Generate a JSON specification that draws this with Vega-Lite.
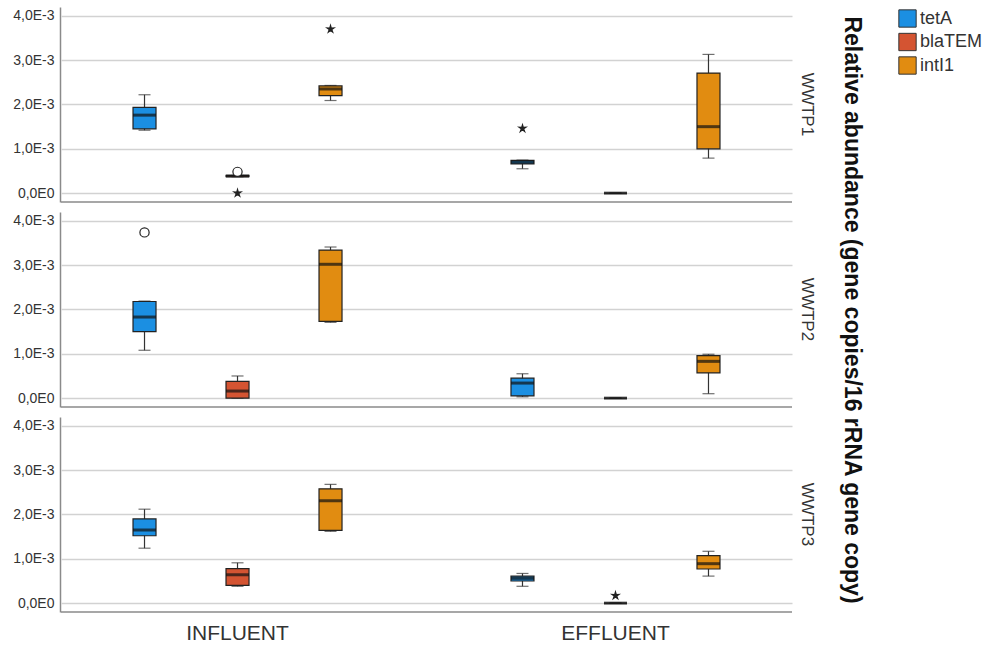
{
  "$schema": "https://vega.github.io/schema/vega-lite/v6.json",
  "background": "white",
  "padding": {"left": 12, "top": 7, "right": 5, "bottom": 5},
  "data": {
    "values": [
      {"plant": "WWTP1", "stage": "INFLUENT", "gene": "tetA", "lo": 0.00142, "q1": 0.00145, "med": 0.00176, "q3": 0.001935, "hi": 0.00222},
      {"plant": "WWTP1", "stage": "INFLUENT", "gene": "blaTEM", "lo": 0.00037, "q1": 0.00037, "med": 0.000385, "q3": 0.0004, "hi": 0.0004},
      {"plant": "WWTP1", "stage": "INFLUENT", "gene": "intI1", "lo": 0.00209, "q1": 0.0022, "med": 0.00235, "q3": 0.00242, "hi": 0.00243},
      {"plant": "WWTP1", "stage": "EFFLUENT", "gene": "tetA", "lo": 0.00055, "q1": 0.00066, "med": 0.0007, "q3": 0.00074, "hi": 0.000745},
      {"plant": "WWTP1", "stage": "EFFLUENT", "gene": "blaTEM", "lo": 0, "q1": 0, "med": 0, "q3": 0, "hi": 0},
      {"plant": "WWTP1", "stage": "EFFLUENT", "gene": "intI1", "lo": 0.00079, "q1": 0.001, "med": 0.0015, "q3": 0.00271, "hi": 0.00313},
      {"plant": "WWTP2", "stage": "INFLUENT", "gene": "tetA", "lo": 0.00108, "q1": 0.0015, "med": 0.00183, "q3": 0.00218, "hi": 0.00219},
      {"plant": "WWTP2", "stage": "INFLUENT", "gene": "blaTEM", "lo": 0, "q1": 0, "med": 0.00016, "q3": 0.00038, "hi": 0.0005},
      {"plant": "WWTP2", "stage": "INFLUENT", "gene": "intI1", "lo": 0.00171, "q1": 0.00173, "med": 0.00302, "q3": 0.00334, "hi": 0.00341},
      {"plant": "WWTP2", "stage": "EFFLUENT", "gene": "tetA", "lo": 0.00003, "q1": 0.00005, "med": 0.00034, "q3": 0.00045, "hi": 0.00055},
      {"plant": "WWTP2", "stage": "EFFLUENT", "gene": "blaTEM", "lo": 0, "q1": 0, "med": 0, "q3": 0, "hi": 0},
      {"plant": "WWTP2", "stage": "EFFLUENT", "gene": "intI1", "lo": 0.0001, "q1": 0.00057, "med": 0.00083, "q3": 0.00096, "hi": 0.00099},
      {"plant": "WWTP3", "stage": "INFLUENT", "gene": "tetA", "lo": 0.00124, "q1": 0.00152, "med": 0.00165, "q3": 0.0019, "hi": 0.00212},
      {"plant": "WWTP3", "stage": "INFLUENT", "gene": "blaTEM", "lo": 0.00038, "q1": 0.0004, "med": 0.00064, "q3": 0.00078, "hi": 0.00091},
      {"plant": "WWTP3", "stage": "INFLUENT", "gene": "intI1", "lo": 0.00162, "q1": 0.00164, "med": 0.00231, "q3": 0.00258, "hi": 0.00268},
      {"plant": "WWTP3", "stage": "EFFLUENT", "gene": "tetA", "lo": 0.00038, "q1": 0.0005, "med": 0.00056, "q3": 0.00061, "hi": 0.00067},
      {"plant": "WWTP3", "stage": "EFFLUENT", "gene": "blaTEM", "lo": 0, "q1": 0, "med": 0, "q3": 0, "hi": 0},
      {"plant": "WWTP3", "stage": "EFFLUENT", "gene": "intI1", "lo": 0.00061, "q1": 0.00077, "med": 0.00089, "q3": 0.00107, "hi": 0.00117},
      {"plant": "WWTP1", "stage": "INFLUENT", "gene": "blaTEM", "kind": "outlier", "value": 0.00048},
      {"plant": "WWTP1", "stage": "INFLUENT", "gene": "blaTEM", "kind": "extreme", "value": 0.0},
      {"plant": "WWTP1", "stage": "INFLUENT", "gene": "intI1", "kind": "extreme", "value": 0.0037},
      {"plant": "WWTP1", "stage": "EFFLUENT", "gene": "tetA", "kind": "extreme", "value": 0.00146},
      {"plant": "WWTP2", "stage": "INFLUENT", "gene": "tetA", "kind": "outlier", "value": 0.00374},
      {"plant": "WWTP3", "stage": "EFFLUENT", "gene": "blaTEM", "kind": "extreme", "value": 0.00017}
    ]
  },
  "facet": {
    "row": {
      "field": "plant",
      "type": "nominal",
      "title": "Relative abundance (gene copies/16 rRNA gene copy)",
      "header": {
        "labelOrient": "right",
        "labelAngle": 90,
        "labelFont": "Liberation Sans",
        "labelFontSize": 17,
        "labelColor": "#333333",
        "labelPadding": 5,
        "titleOrient": "right",
        "titleAngle": 90,
        "titleFont": "Liberation Sans",
        "titleFontSize": 23,
        "titleFontWeight": "bold",
        "titleColor": "#111111",
        "titlePadding": 14
      }
    }
  },
  "spacing": 9,
  "spec": {
    "width": 731,
    "height": 195,
    "layer": [
      {
        "transform": [{"filter": "datum.stage === 'INFLUENT' && datum.gene === 'tetA' && isValid(datum.q1)"}],
        "mark": {"type": "rule", "color": "#8a8a8a", "strokeWidth": 1.5},
        "encoding": {
          "y": {"datum": -0.0002, "type": "quantitative", "scale": {"domain": [-0.0002, 0.0042], "nice": false, "zero": false}, "title": null}
        }
      },
      {
        "encoding": {
          "x": {
            "field": "stage",
            "type": "nominal",
            "sort": ["INFLUENT", "EFFLUENT"],
            "scale": {"paddingInner": 0.2, "paddingOuter": 0.067},
            "axis": {"title": null, "labelAngle": 0, "labelFont": "Liberation Sans", "labelFontSize": 21, "labelColor": "#333333", "labelPadding": 9, "ticks": false, "domain": false, "grid": false}
          },
          "xOffset": {
            "field": "gene",
            "type": "nominal",
            "sort": ["tetA", "blaTEM", "intI1"],
            "scale": {"paddingInner": 0.7527, "paddingOuter": 0.502}
          }
        },
        "layer": [
          {
            "transform": [{"filter": "isValid(datum.q1)"}],
            "mark": {"type": "rule", "color": "#333333", "strokeWidth": 1.2},
            "encoding": {
              "y": {
                "field": "lo",
                "type": "quantitative",
                "scale": {"domain": [-0.0002, 0.0042], "nice": false, "zero": false},
                "axis": {
                  "title": null,
                  "values": [0, 0.001, 0.002, 0.003, 0.004],
                  "labelExpr": "datum.value === 0 ? '0,0E0' : replace(format(datum.value * 1000, '.1f'), '.', ',') + 'E-3'",
                  "labelFont": "Liberation Sans",
                  "labelFontSize": 14,
                  "labelColor": "#333333",
                  "labelPadding": 6,
                  "ticks": false,
                  "domainColor": "#8a8a8a",
                  "domainWidth": 1.5,
                  "grid": true,
                  "gridColor": "#d2d2d2",
                  "gridWidth": 1.5
                }
              },
              "y2": {"field": "hi"}
            }
          },
          {
            "transform": [{"filter": "isValid(datum.q1)"}],
            "mark": {"type": "tick", "color": "#333333", "size": 12, "thickness": 1.2},
            "encoding": {"y": {"field": "lo", "type": "quantitative", "title": null}}
          },
          {
            "transform": [{"filter": "isValid(datum.q1)"}],
            "mark": {"type": "tick", "color": "#333333", "size": 12, "thickness": 1.2},
            "encoding": {"y": {"field": "hi", "type": "quantitative", "title": null}}
          },
          {
            "transform": [{"filter": "isValid(datum.q1)"}],
            "mark": {"type": "bar", "stroke": "#222222", "strokeWidth": 1.2},
            "encoding": {
              "y": {"field": "q1", "type": "quantitative", "title": null},
              "y2": {"field": "q3"},
              "color": {
                "field": "gene",
                "type": "nominal",
                "scale": {"domain": ["tetA", "blaTEM", "intI1"], "range": ["#1b8fe2", "#d45432", "#e18c11"]},
                "legend": {
                  "title": null,
                  "orient": "right",
                  "offset": 33,
                  "padding": 2,
                  "symbolType": "square",
                  "symbolSize": 300,
                  "symbolStrokeColor": "#333333",
                  "symbolStrokeWidth": 1,
                  "symbolOpacity": 1,
                  "labelFont": "Liberation Sans",
                  "labelFontSize": 18,
                  "labelColor": "#333333",
                  "labelOffset": 3,
                  "rowPadding": 0.5
                }
              }
            }
          },
          {
            "transform": [{"filter": "isValid(datum.q1)"}],
            "mark": {"type": "tick", "color": "#111111", "size": 23, "thickness": 3},
            "encoding": {"y": {"field": "med", "type": "quantitative", "title": null}}
          },
          {
            "transform": [{"filter": "isValid(datum.value)"}],
            "mark": {"type": "point", "filled": true, "size": 85, "stroke": "#222222", "strokeWidth": 1.2, "opacity": 1},
            "encoding": {
              "y": {"field": "value", "type": "quantitative", "title": null},
              "shape": {
                "field": "kind",
                "type": "nominal",
                "scale": {"domain": ["outlier", "extreme"], "range": ["circle", "M0,-0.8L0.17,-0.23L0.76,-0.25L0.27,0.09L0.47,0.65L0,0.29L-0.47,0.65L-0.27,0.09L-0.76,-0.25L-0.17,-0.23Z"]},
                "legend": null
              },
              "fill": {
                "field": "kind",
                "type": "nominal",
                "scale": {"domain": ["outlier", "extreme"], "range": ["#ffffff", "#222222"]},
                "legend": null
              }
            }
          }
        ]
      }
    ]
  },
  "config": {
    "view": {"stroke": null},
    "font": "Liberation Sans"
  }
}
